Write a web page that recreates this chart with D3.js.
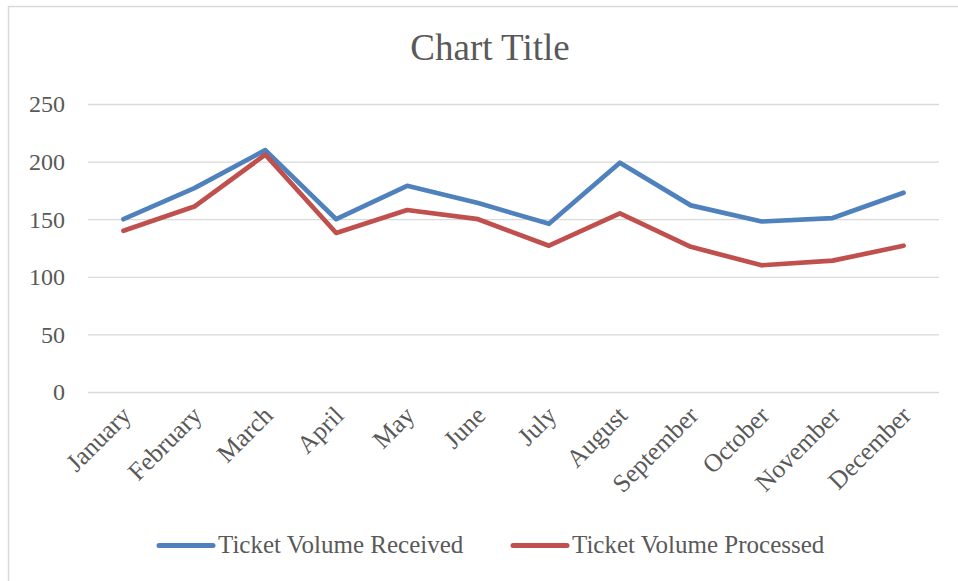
<!DOCTYPE html>
<meta charset="utf-8">
<head>
    <script src="https://d3js.org/d3.v7.min.js"></script>
    <style>
        body { margin: 0; background: #fff; }
        text { font-family: "Liberation Serif", "DejaVu Serif", serif; fill: #595959; }
        .grid line { stroke: #d9d9d9; stroke-width: 1.3px; }
    </style>
</head>
<body>
<div id="graph"></div>
<script>
    // data
    var months = ["January", "February", "March", "April", "May", "June",
                  "July", "August", "September", "October", "November", "December"];
    var received  = [150, 177, 210, 150, 179, 164, 146, 199, 162, 148, 151, 173];
    var processed = [140, 161, 206, 138, 158, 150, 127, 155, 126, 110, 114, 127];
    var seriesNames = ["Ticket Volume Received", "Ticket Volume Processed"];
    var seriesColors = ["#4f81bd", "#c0504d"];
    var yTicks = [0, 50, 100, 150, 200, 250];

    var W = 958, H = 581;
    var plot = {left: 88, right: 939, top: 104, bottom: 392};

    var svg = d3.select("#graph")
      .append("svg")
        .attr("width", W)
        .attr("height", H);

    // chart frame (right and bottom edges fall outside the window)
    svg.append("rect")
        .attr("x", 8.5).attr("y", 6.5)
        .attr("width", 1000).attr("height", 700)
        .attr("fill", "none")
        .attr("stroke", "#d9d9d9")
        .attr("stroke-width", 1.5);

    // title
    svg.append("text")
        .attr("x", 490)
        .attr("y", 60)
        .attr("text-anchor", "middle")
        .style("font-size", "37px")
        .text("Chart Title");

    var x = d3.scalePoint()
        .domain(months)
        .range([plot.left, plot.right])
        .padding(0.5);

    var y = d3.scaleLinear()
        .domain([0, 250])
        .range([plot.bottom, plot.top]);

    // horizontal grid lines
    svg.append("g")
        .attr("class", "grid")
        .attr("transform", "translate(" + plot.left + ",0)")
        .call(d3.axisLeft(y).tickValues(yTicks).tickSize(-(plot.right - plot.left)).tickFormat(""))
        .call(function(g) { g.select(".domain").remove(); });

    // y labels
    svg.append("g")
        .selectAll("text")
        .data(yTicks)
        .enter()
        .append("text")
        .attr("x", 65)
        .attr("y", function(d) { return y(d); })
        .attr("dy", "0.35em")
        .attr("text-anchor", "end")
        .style("font-size", "24px")
        .text(function(d) { return d; });

    // x labels, rotated
    svg.append("g")
        .selectAll("text")
        .data(months)
        .enter()
        .append("text")
        .attr("transform", function(d) { return "translate(" + (x(d) + 9) + ",417) rotate(-45)"; })
        .attr("text-anchor", "end")
        .style("font-size", "25.5px")
        .text(function(d) { return d; });

    // lines
    var line = d3.line()
        .x(function(d, i) { return x(months[i]); })
        .y(function(d) { return y(d); });

    [received, processed].forEach(function(vals, i) {
        svg.append("path")
            .datum(vals)
            .attr("d", line)
            .attr("fill", "none")
            .attr("stroke", seriesColors[i])
            .attr("stroke-width", 4.7)
            .attr("stroke-linejoin", "round")
            .attr("stroke-linecap", "round");
    });

    // legend
    var legendX = [159, 513];
    seriesNames.forEach(function(name, i) {
        svg.append("line")
            .attr("x1", legendX[i]).attr("x2", legendX[i] + 54)
            .attr("y1", 545.5).attr("y2", 545.5)
            .attr("stroke", seriesColors[i])
            .attr("stroke-width", 5)
            .attr("stroke-linecap", "round");
        svg.append("text")
            .attr("x", legendX[i] + 59)
            .attr("y", 553)
            .style("font-size", "25px")
            .text(name);
    });
</script>
</body>
